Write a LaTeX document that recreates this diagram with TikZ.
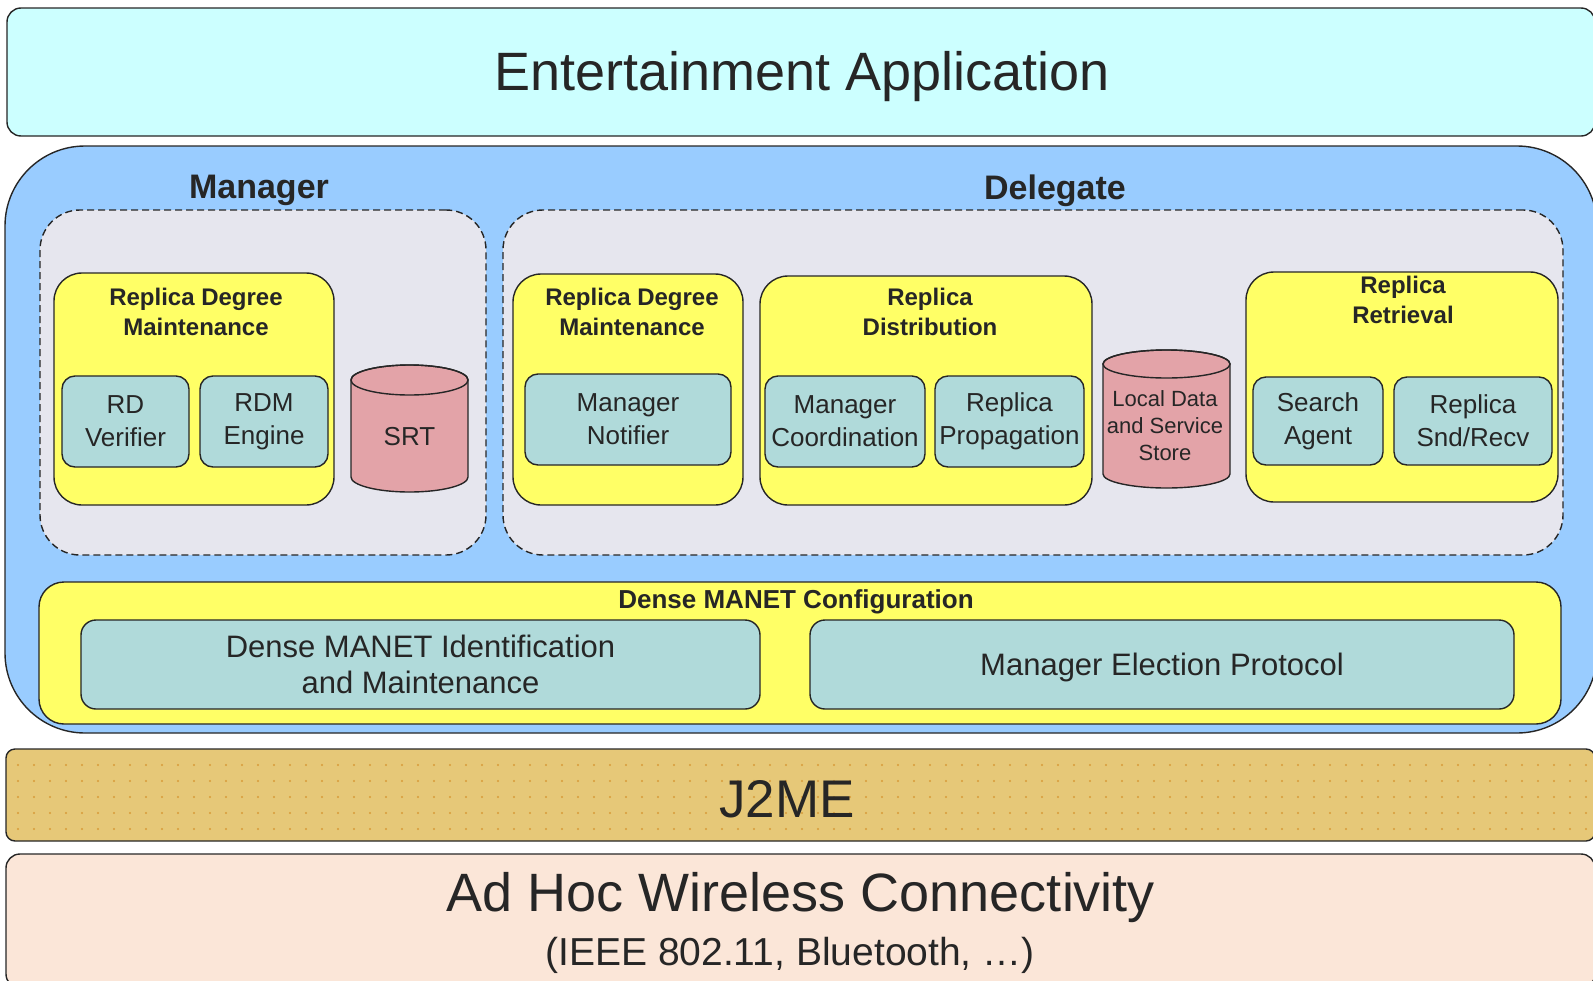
\documentclass[tikz,border=0pt]{standalone}
\usepackage{fontspec}
\setmainfont{Liberation Sans}
\definecolor{linec}{HTML}{262626}
\definecolor{topc}{HTML}{CCFFFF}
\definecolor{bluec}{HTML}{99CCFF}
\definecolor{regc}{HTML}{E6E6EE}
\definecolor{yelc}{HTML}{FFFF66}
\definecolor{tealc}{HTML}{B0DADA}
\definecolor{cylc}{HTML}{E3A3A8}
\definecolor{j2c}{HTML}{E6C878}
\definecolor{dotc}{HTML}{D89A38}
\definecolor{adc}{HTML}{FBE6D8}
\tikzset{
  lay/.style={draw=linec, line width=1.4pt},
  band/.style={lay, rounded corners=14pt, inner sep=0pt},
  dashreg/.style={draw=linec, line width=1.4pt, dash pattern=on 7pt off 4pt, fill=regc, rounded corners=40pt, inner sep=0pt},
  ybox/.style={lay, fill=yelc, rounded corners=28pt, inner sep=0pt},
  tbox/.style={lay, fill=tealc, rounded corners=13pt, align=center, inner sep=0pt, font=\fontsize{26}{33}\selectfont},
  ttl/.style={align=center, font=\bfseries\fontsize{24}{30}\selectfont, inner sep=0pt},
  big/.style={inner sep=0pt, font=\fontsize{54}{60}\selectfont},
  cyl/.style={lay, fill=cylc},
}
\begin{document}
\begin{tikzpicture}[x=1pt, y=-1pt, text=linec]
\useasboundingbox (0,0) rectangle (1593,980);
% top band
\node[band, fill=topc, minimum width=1588pt, minimum height=128pt] (app) at (801,72) {};
\node[big] (appt) at (802,77) {Entertainment Application};
% big blue
\node[lay, fill=bluec, rounded corners=80pt, minimum width=1592pt, minimum height=587pt] (mw) at (801,439.5) {};
% dashed regions
\node[dashreg, minimum width=446pt, minimum height=345pt] (mreg) at (263,382.5) {};
\node[dashreg, minimum width=1060pt, minimum height=345pt] (dreg) at (1033,382.5) {};
\node[font=\bfseries\fontsize{34}{40}\selectfont, inner sep=0pt] (mlab) at (259,190) {Manager};
\node[font=\bfseries\fontsize{34}{40}\selectfont, inner sep=0pt] (dlab) at (1055,191) {Delegate};
% manager RDM
\node[ybox, minimum width=280pt, minimum height=232pt] (mrdm) at (194,389) {};
\node[ttl] (mrdmt) at (196,312) {Replica Degree\\Maintenance};
\node[tbox, minimum width=127pt, minimum height=91pt] (rdv) at (125.5,421.5) {RD\\Verifier};
\node[tbox, minimum width=128pt, minimum height=91pt] (rdme) at (264,421.5) {RDM\\Engine};
% SRT cylinder
\path[cyl] (351,380) -- (351,477) arc[start angle=180, end angle=0, x radius=58.5, y radius=15] -- (468,380) arc[start angle=0, end angle=-180, x radius=58.5, y radius=15] -- cycle;
\draw[lay] (409.5,380) ellipse[x radius=58.5, y radius=15];
\node[font=\fontsize{26}{33}\selectfont, inner sep=0pt] (srt) at (409.5,437) {SRT};
% delegate RDM
\node[ybox, minimum width=230pt, minimum height=231pt] (drdm) at (628,389.5) {};
\node[ttl] (drdmt) at (632,312) {Replica Degree\\Maintenance};
\node[tbox, minimum width=206pt, minimum height=91pt] (mnot) at (628,419.5) {Manager\\Notifier};
% replica distribution
\node[ybox, minimum width=332pt, minimum height=229pt] (rdist) at (926,390.5) {};
\node[ttl] (rdistt) at (930,312) {Replica\\Distribution};
\node[tbox, minimum width=160pt, minimum height=91pt] (mcoord) at (845,421.5) {Manager\\Coordination};
\node[tbox, minimum width=149pt, minimum height=91pt] (rprop) at (1009.5,421.5) {Replica\\Propagation};
% local data store cylinder
\path[cyl] (1103,364) -- (1103,474) arc[start angle=180, end angle=0, x radius=63.5, y radius=14] -- (1230,364) arc[start angle=0, end angle=-180, x radius=63.5, y radius=14] -- cycle;
\draw[lay] (1166.5,364) ellipse[x radius=63.5, y radius=14];
\node[align=center, font=\fontsize{22}{27}\selectfont, inner sep=0pt] (lds) at (1165,426) {Local Data\\and Service\\Store};
% replica retrieval
\node[ybox, minimum width=312pt, minimum height=230pt] (rret) at (1402,387) {};
\node[ttl] (rrett) at (1403,300) {Replica\\Retrieval};
\node[tbox, minimum width=130pt, minimum height=88pt] (sag) at (1318,421) {Search\\Agent};
\node[tbox, minimum width=158pt, minimum height=88pt] (rsr) at (1473,421) {Replica\\Snd/Recv};
% dense MANET configuration
\node[ybox, rounded corners=25pt, minimum width=1522pt, minimum height=142pt] (dmc) at (800,653) {};
\node[font=\bfseries\fontsize{26}{30}\selectfont, inner sep=0pt] (dmct) at (796,602) {Dense MANET Configuration};
\node[tbox, rounded corners=15pt, font=\fontsize{31}{36}\selectfont, minimum width=679pt, minimum height=89pt] (dmi) at (420.5,664.5) {Dense MANET Identification\\and Maintenance};
\node[tbox, rounded corners=15pt, minimum width=704pt, minimum height=89pt] (mep) at (1162,664.5) {};
\node[inner sep=0pt, font=\fontsize{31}{36}\selectfont] (mept) at (1162,667) {Manager Election Protocol};
% J2ME
\node[band, rounded corners=9pt, fill=j2c, minimum width=1589pt, minimum height=92pt] (j2) at (800.5,795) {};
\foreach \xx in {18,34,...,1586} {
  \foreach \yy in {765,781,...,829} {
    \fill[dotc] (\xx,\yy) circle (1.2);
  }
}
\node[big, font=\fontsize{53}{60}\selectfont] (j2t) at (787,799) {J2ME};
% ad hoc
\node[band, fill=adc, minimum width=1589pt, minimum height=134pt] (adh) at (800.5,921) {};
\node[big] (adht) at (801,898) {Ad Hoc Wireless Connectivity};
\node[inner sep=0pt, font=\fontsize{39}{44}\selectfont] (ieee) at (790,955) {(IEEE 802.11, Bluetooth, \dots)};
\end{tikzpicture}
\end{document}
